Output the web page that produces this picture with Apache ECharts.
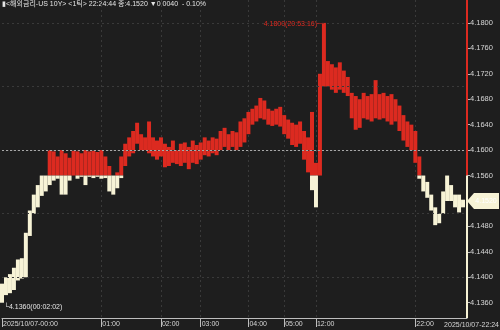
<!DOCTYPE html>
<html><head><meta charset="utf-8">
<script src="https://cdn.jsdelivr.net/npm/echarts@6/dist/echarts.min.js"></script>
<style>html,body{margin:0;padding:0;background:#1e1e1e}#c{width:500px;height:330px}</style>
</head><body><div id="c"></div>
<script>
// per-column high / low of the 1-tick price (US 10Y)
const highs = [4.1390,4.1400,4.1405,4.1415,4.1428,4.1430,4.1470,4.1505,4.1530,4.1545,
4.1560,4.1560,4.1600,4.1598,4.1590,4.1600,4.1595,4.1588,4.1600,4.1598,
4.1595,4.1600,4.1598,4.1600,4.1597,4.1600,4.1590,4.1575,4.1560,4.1565,
4.1590,4.1610,4.1620,4.1630,4.1643,4.1625,4.1620,4.1645,4.1620,4.1615,
4.1620,4.1610,4.1605,4.1615,4.1600,4.1610,4.1612,4.1605,4.1615,4.1608,
4.1612,4.1620,4.1615,4.1620,4.1618,4.1630,4.1635,4.1625,4.1630,4.1628,
4.1645,4.1650,4.1660,4.1665,4.1670,4.1682,4.1678,4.1665,4.1662,4.1665,
4.1668,4.1655,4.1648,4.1643,4.1640,4.1645,4.1630,4.1620,4.1660,4.1580,
4.1720,4.1800,4.1740,4.1735,4.1730,4.1738,4.1725,4.1715,4.1690,4.1685,
4.1680,4.1690,4.1685,4.1688,4.1710,4.1688,4.1690,4.1685,4.1688,4.1680,
4.1670,4.1655,4.1645,4.1640,4.1630,4.1590,4.1560,4.1550,4.1530,4.1510,
4.1500,4.1535,4.1560,4.1545,4.1530,4.1530,4.1522];
const lows = [4.1360,4.1372,4.1375,4.1380,4.1395,4.1398,4.1400,4.1465,4.1500,4.1510,
4.1528,4.1535,4.1545,4.1552,4.1555,4.1530,4.1530,4.1552,4.1560,4.1555,
4.1558,4.1545,4.1558,4.1556,4.1558,4.1555,4.1556,4.1535,4.1530,4.1540,
4.1556,4.1575,4.1590,4.1595,4.1610,4.1600,4.1600,4.1595,4.1590,4.1585,
4.1590,4.1573,4.1575,4.1580,4.1578,4.1575,4.1580,4.1570,4.1580,4.1578,
4.1585,4.1592,4.1590,4.1595,4.1592,4.1600,4.1605,4.1600,4.1605,4.1600,
4.1605,4.1612,4.1625,4.1640,4.1645,4.1650,4.1648,4.1640,4.1638,4.1640,
4.1637,4.1625,4.1618,4.1608,4.1605,4.1610,4.1585,4.1565,4.1537,4.1510,
4.1560,4.1700,4.1700,4.1695,4.1690,4.1695,4.1690,4.1685,4.1650,4.1632,
4.1635,4.1650,4.1648,4.1645,4.1650,4.1648,4.1650,4.1645,4.1640,4.1645,
4.1630,4.1615,4.1605,4.1600,4.1580,4.1555,4.1535,4.1525,4.1505,4.1482,
4.1485,4.1500,4.1520,4.1520,4.1510,4.1502,4.1510];
const baseValue = 4.156;   // previous close
const lastPrice = 4.152;
const yTicks = [4.136,4.140,4.144,4.148,4.152,4.156,4.160,4.164,4.168,4.172,4.176,4.180];
const labelIndex = [0,25,40,50,62,71,79,104];
const labelText = ['2025/10/07-00:00','01:00','02:00','03:00','04:00','05:00','12:00','22:00'];
const endLabel = '2025/10/07-22:24';
const headerText = '▮<해외금리-US 10Y> <1틱> 22:24:44 종:4.1520 ▼0.0040  - 0.10%';
const highNote = '4.1800(20:53:16)';
const lowNote = '4.1360(00:02:02)';
const highIndex = 81, lowIndex = 0;

const RED = '#dc2a20', CREAM = '#f7f3d6', BG = '#1e1e1e';
const N = highs.length + 1;
const categories = Array.from({length: N}, (_, i) => String(i));
const data = highs.map((h, i) => [i, h, lows[i]]);
const FONT = "'Liberation Sans', 'Noto Sans CJK KR', sans-serif";
const FS = 7;
const yMin = 4.1336, yMax = 4.1836;

const chart = echarts.init(document.getElementById('c'), null, {renderer: 'canvas'});
chart.setOption({
  backgroundColor: BG,
  animation: false,
  grid: {left: 0, right: 33, top: 0, bottom: 12},
  xAxis: {
    type: 'category', data: categories, boundaryGap: false,
    axisLine: {show: true, lineStyle: {color: '#bdbdbd', width: 1}},
    axisTick: {show: true, length: 9, interval: (i) => labelIndex.includes(i), lineStyle: {color: '#bdbdbd'}},
    axisLabel: {
      interval: (i) => labelIndex.includes(i),
      formatter: (v, i) => { const k = labelIndex.indexOf(i); return k >= 0 ? labelText[k] : ''; },
      align: 'left', margin: 3, fontSize: FS, color: '#d6d6d6', fontFamily: FONT, padding: [0, 0, 0, 1]
    },
    splitLine: {show: true, interval: (i) => labelIndex.includes(i) && i > 0,
      lineStyle: {color: '#3a3a3a', type: [2, 3]}}
  },
  yAxis: {
    type: 'value', position: 'right', min: yMin, max: yMax, scale: true,
    axisLine: {show: false},
    axisTick: {show: true, length: 3, customValues: yTicks, lineStyle: {color: '#bdbdbd'}},
    axisLabel: {customValues: yTicks, formatter: (v) => v.toFixed(4), fontSize: FS + 0.5, color: '#d6d6d6',
      fontFamily: FONT, margin: 3},
    splitLine: {show: false}
  },
  graphic: [
    {type: 'text', left: 2, top: 1, style: {text: headerText, fill: '#e4e4e4', fontSize: FS, fontFamily: FONT}},
    {type: 'text', right: 1, bottom: 1, style: {text: endLabel, fill: '#d6d6d6', fontSize: FS, fontFamily: FONT}}
  ],
  series: [{
    type: 'custom',
    data: data,
    encode: {x: 0, y: [1, 2]},
    renderItem: (params, api) => {
      const i = api.value(0), hi = api.value(1), lo = api.value(2);
      const w = api.size([1, 0])[0];
      const pHi = api.coord([i, hi]), pLo = api.coord([i, lo]), pB = api.coord([i, baseValue]);
      const x = pHi[0] - w / 2;
      const children = [];
      if (hi > baseValue) {
        const top = pHi[1], bot = Math.min(pLo[1], pB[1]);
        children.push({type: 'rect', shape: {x: x, y: top, width: w, height: Math.max(bot - top, 1)}, style: {fill: RED}});
      }
      if (lo < baseValue) {
        const top = Math.max(pHi[1], pB[1]), bot = pLo[1];
        children.push({type: 'rect', shape: {x: x, y: top, width: w, height: Math.max(bot - top, 1)}, style: {fill: CREAM}});
      }
      return {type: 'group', children: children};
    },
    z: 3,
    markLine: {
      silent: true, symbol: 'none', animation: false,
      label: {show: false},
      data: yTicks.filter(v => v !== baseValue).map(v => ({yAxis: v, lineStyle: {color: '#3a3a3a', type: [2, 3], width: 1}}))
        .concat([
          {yAxis: baseValue, lineStyle: {color: '#a8a8a8', type: [2, 2], width: 1}},
          [{coord: [N - 1, baseValue], lineStyle: {color: RED, width: 2, type: 'solid'}}, {coord: [N - 1, yMax]}],
          [{coord: [N - 1, yMin], lineStyle: {color: CREAM, width: 2, type: 'solid'}}, {coord: [N - 1, baseValue]}]
        ])
    },
    markPoint: {
      silent: true, animation: false,
      data: [
        {coord: [highIndex, highs[highIndex]], symbolSize: 0,
          label: {show: true, position: 'left', distance: 0, formatter: highNote + '─┐', color: RED, fontSize: FS, fontFamily: FONT, offset: [3, 1]}},
        {coord: [lowIndex, lows[lowIndex]], symbolSize: 0,
          label: {show: true, position: 'right', distance: 0, formatter: '└' + lowNote, color: '#e6e6e6', fontSize: FS, fontFamily: FONT, offset: [2, 4]}},
        {coord: [N - 1, lastPrice], symbol: 'path://M0,8 L7,0 L32,0 L32,16 L7,16 Z', symbolSize: [32, 16], symbolOffset: [16, 0],
          itemStyle: {color: CREAM},
          label: {show: true, position: 'inside', formatter: lastPrice.toFixed(4), color: '#ffffff', fontSize: FS, fontFamily: FONT, offset: [3, 0]}}
      ]
    }
  }]
});
</script></body></html>
